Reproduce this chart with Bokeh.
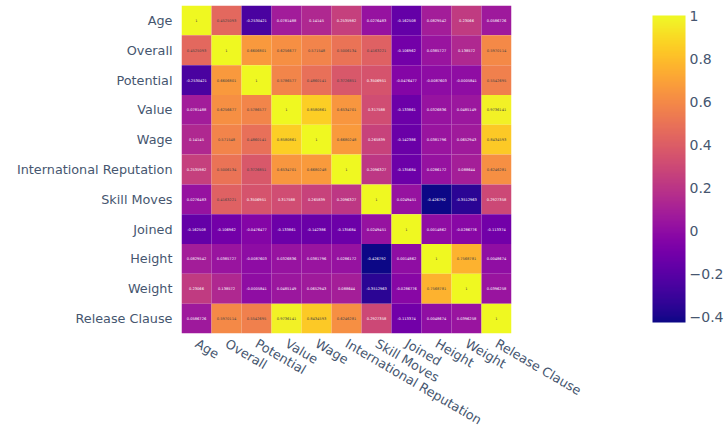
from bokeh.plotting import figure
from bokeh.models import ColumnDataSource, LinearColorMapper, ColorBar, FixedTicker
from bokeh.palettes import Plasma256
from bokeh.core.properties import value
from bokeh.embed import file_html
from bokeh.resources import INLINE

labels = ["Age", "Overall", "Potential", "Value", "Wage", "International Reputation",
          "Skill Moves", "Joined", "Height", "Weight", "Release Clause"]

age       = [1, 0.4525093, -0.2530421, 0.0781488, 0.14145, 0.2535982, 0.0276483, -0.162508, 0.0829542, 0.23066, 0.0586726]
overall   = [0.4525093, 1, 0.6606801, 0.6256677, 0.571548, 0.5006134, 0.4163221, -0.106962, 0.0385727, 0.138572, 0.5970114]
potential = [-0.2530421, 0.6606801, 1, 0.5786577, 0.4860141, 0.3726851, 0.3506951, -0.0476477, -0.0087603, -0.0005841, 0.5542695]
value_    = [0.0781488, 0.6256677, 0.5786577, 1, 0.8580861, 0.6534701, 0.317588, -0.133861, 0.0326836, 0.0485149, 0.9736141]
wage      = [0.14145, 0.571548, 0.4860141, 0.8580861, 1, 0.6680248, 0.265839, -0.142386, 0.0381796, 0.0652943, 0.8434593]
reputation = [0.2535982, 0.5006134, 0.3726851, 0.6534701, 0.6680248, 1, 0.2096327, -0.135684, 0.0286172, 0.088644, 0.6246281]
skill     = [0.0276483, 0.4163221, 0.3506951, 0.317588, 0.265839, 0.2096327, 1, 0.0249451, -0.426792, -0.3512963, 0.2927358]
joined    = [-0.162508, -0.106962, -0.0476477, -0.133861, -0.142386, -0.135684, 0.0249451, 1, 0.0014862, -0.0286776, -0.113374]
height    = [0.0829542, 0.0385727, -0.0087603, 0.0326836, 0.0381796, 0.0286172, -0.426792, 0.0014862, 1, 0.7568781, 0.0048674]
weight    = [0.23066, 0.138572, -0.0005841, 0.0485149, 0.0652943, 0.088644, -0.3512963, -0.0286776, 0.7568781, 1, 0.0396258]
release   = [0.0586726, 0.5970114, 0.5542695, 0.9736141, 0.8434593, 0.6246281, 0.2927358, -0.113374, 0.0048674, 0.0396258, 1]
rows = [age, overall, potential, value_, wage, reputation, skill, joined, height, weight, release]

cbar_ticks = [-0.4, -0.2, 0, 0.2, 0.4, 0.6, 0.8, 1]
cbar_labels = {"-0.4": "\u22120.4", "-0.2": "\u22120.2", "0": "0", "0.2": "0.2", "0.4": "0.4",
               "0.6": "0.6", "0.8": "0.8", "1": "1"}

xs, ys, vals, txt, tcol = [], [], [], [], []
for name_y, row in zip(labels, rows):
    for name_x, v in zip(labels, row):
        xs.append(name_x)
        ys.append(name_y)
        vals.append(v)
        txt.append(str(v))
        tcol.append("#444444" if v > 0.36 else "#ffffff")
src = ColumnDataSource(dict(x=xs, y=ys, v=vals, t=txt, c=tcol))

mapper = LinearColorMapper(palette=Plasma256, low=-0.4268, high=1)

FONT = "DejaVu Sans"
INK = "#46566f"

p = figure(x_range=labels, y_range=labels[::-1], output_backend="svg", toolbar_location=None,
           frame_width=330, frame_height=328,
           min_border_left=181, min_border_top=5, min_border_right=215, min_border_bottom=96,
           sizing_mode="fixed",
           background_fill_color="white", border_fill_color="white", outline_line_color=None)
p.rect("x", "y", 1, 1, source=src, fill_color={"field": "v", "transform": mapper}, line_color=None)
p.text("x", "y", text="t", source=src, text_color="c", text_font_size="3.6px",
       text_align="center", text_baseline="middle", text_font=value(FONT))

p.grid.visible = False
for ax in (p.xaxis[0], p.yaxis[0]):
    ax.axis_line_color = None
    ax.major_tick_line_color = None
    ax.minor_tick_line_color = None
    ax.major_label_text_font = FONT
    ax.major_label_text_font_size = "12.8px"
    ax.major_label_text_color = INK
p.yaxis[0].major_label_standoff = 3
p.xaxis[0].major_label_standoff = 3
p.xaxis[0].major_label_orientation = -0.53

cb = ColorBar(color_mapper=mapper, ticker=FixedTicker(ticks=cbar_ticks),
              major_label_overrides=cbar_labels,
              location=(471, 11), width=33, height=307, padding=0, margin=0,
              major_tick_line_color=None, minor_tick_line_color=None, bar_line_color=None,
              border_line_color=None, background_fill_color=None,
              major_label_text_font=FONT, major_label_text_font_size="14px",
              major_label_text_color=INK, label_standoff=4)
p.add_layout(cb, "center")

open("out.html", "w").write(file_html(p, INLINE))
